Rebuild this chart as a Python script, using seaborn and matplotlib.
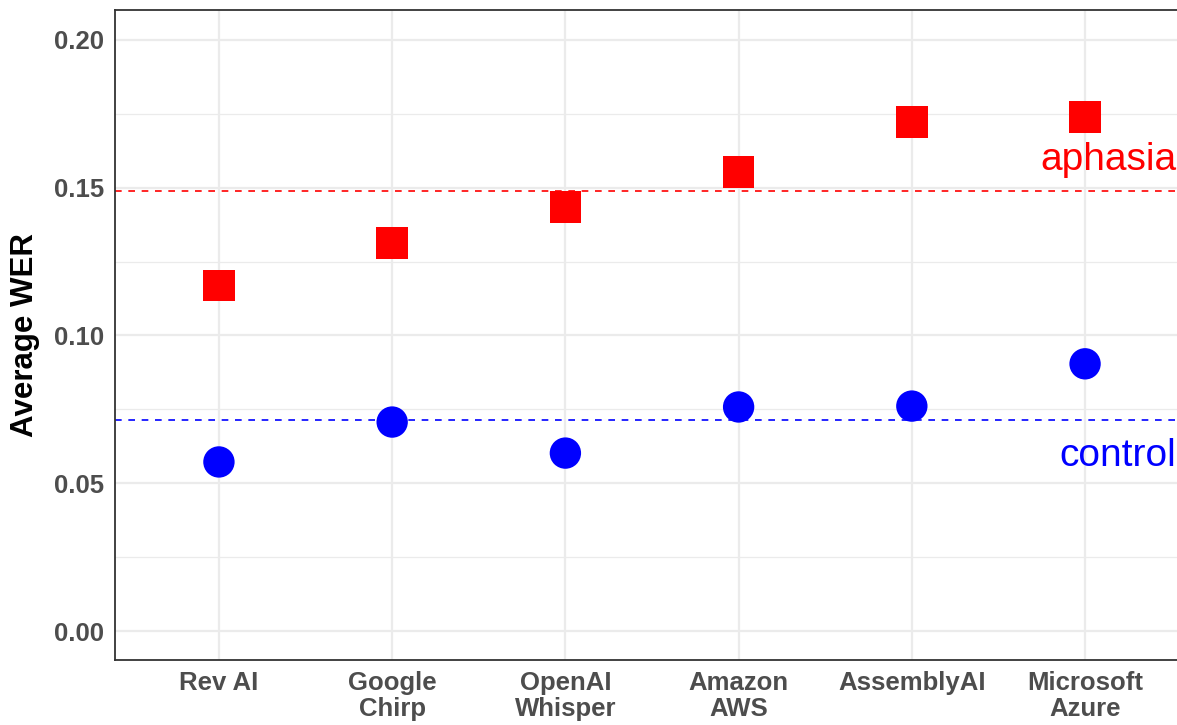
import pandas as pd
import numpy as np
import matplotlib.pyplot as plt
import seaborn as sns
from matplotlib.ticker import MultipleLocator

systems = ["Rev AI", "Google\nChirp", "OpenAI\nWhisper", "Amazon\nAWS", "AssemblyAI", "Microsoft\nAzure"]
aphasia_wer = [0.1168, 0.1313, 0.1435, 0.1553, 0.1722, 0.1739]
control_wer = [0.0572, 0.0707, 0.0602, 0.0758, 0.0761, 0.0904]
aphasia_mean = 0.1489
control_mean = 0.0714

df = pd.DataFrame({
    "system": systems * 2,
    "group": ["aphasia"] * len(systems) + ["control"] * len(systems),
    "wer": aphasia_wer + control_wer,
})

sns.set_style("white")
plt.rcParams['font.family'] = ['Liberation Sans', 'DejaVu Sans']

fig = plt.figure(figsize=(11.77, 7.25), dpi=100)
ax = fig.add_axes([115 / 1177, 65 / 725, 1074 / 1177, 650 / 725])

sns.scatterplot(data=df, x="system", y="wer", hue="group", style="group",
                palette={"aphasia": "#FF0000", "control": "#0000FF"},
                markers={"aphasia": "s", "control": "o"},
                s=510, linewidth=0, legend=False, ax=ax, zorder=3)

ax.axhline(aphasia_mean, color="#FF0000", ls=(0, (4, 4)), lw=1.2, zorder=2)
ax.axhline(control_mean, color="#0000FF", ls=(0, (4, 4)), lw=1.2, zorder=2)

ax.text(5.525, 0.1594, "aphasia", color="#FF0000", fontsize=28, ha="right", va="center")
ax.text(5.525, 0.0592, "control", color="#0000FF", fontsize=28, ha="right", va="center")

ax.set_xlim(-0.6, 5.6)
ax.set_ylim(-0.0098, 0.2101)
ax.yaxis.set_major_locator(MultipleLocator(0.05))
ax.yaxis.set_minor_locator(MultipleLocator(0.025))
ax.yaxis.set_major_formatter(plt.FuncFormatter(lambda v, p: f"{v:.2f}"))

ax.grid(which="major", color="#EBEBEB", lw=1.6, zorder=0)
ax.grid(which="minor", axis="y", color="#EBEBEB", lw=0.9, zorder=0)
ax.set_axisbelow(True)

for sp in ax.spines.values():
    sp.set_color("#333333")
    sp.set_linewidth(1.3)

ax.tick_params(axis="both", which="major", length=5, width=1.3, color="#333333",
               labelsize=18.5, labelcolor="#4D4D4D", pad=3)
ax.tick_params(axis="y", which="minor", length=0)
for lbl in ax.get_xticklabels() + ax.get_yticklabels():
    lbl.set_fontweight("bold")
for lbl in ax.get_xticklabels():
    lbl.set_linespacing(1.1)

ax.set_xlabel("")
ax.set_ylabel("Average WER", fontsize=22.5, fontweight="bold", color="black", labelpad=10)

fig.savefig("out.png", dpi=100)
